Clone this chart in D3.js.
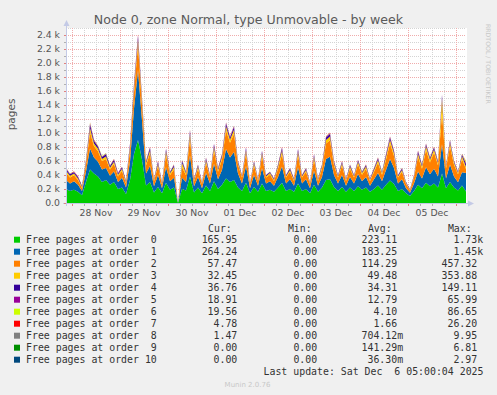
<!DOCTYPE html>
<html>
<head>
<meta charset="utf-8">
<script src="https://cdn.jsdelivr.net/npm/d3@7"></script>
<style>
  body { margin:0; background:#f0f0f0; }
  svg { display:block; }
  text { font-family:"DejaVu Sans", sans-serif; }
  .mono { font-family:"DejaVu Sans Mono", monospace; white-space:pre; }
</style>
</head>
<body>
<script>
// one sample every 2 hours, Nov 27 21:00 -> Dec 6 05:00 (UTC)
const startTime = Date.UTC(2025, 10, 27, 21, 0, 0)
const stepHours = 2

const order0 = [
  200,170,190,160,110,300,480,420,380,300,
  330,260,300,200,220,130,330,700,900,620,
  250,300,150,230,140,290,190,220,0,200,
  180,380,150,220,140,250,170,310,200,260,
  350,300,330,220,170,290,140,230,160,280,
  170,190,160,220,290,170,200,160,280,170,
  200,140,260,160,220,330,340,230,170,230,
  160,220,170,240,190,220,160,200,250,190,
  260,320,270,170,200,140,100,170,260,210,
  290,240,280,220,420,210,300,220,180,250,
  166]
const order1 = [
  130,110,120,100,60,150,300,230,210,180,
  170,130,150,100,140,90,260,650,1000,560,
  170,230,90,170,70,220,120,140,0,160,
  120,300,90,150,70,180,110,250,140,210,
  420,350,400,200,110,240,70,170,85,220,
  110,120,85,150,230,110,140,85,230,110,
  140,70,200,85,150,300,320,170,110,170,
  85,150,110,175,120,150,85,140,180,120,
  210,310,230,110,140,70,45,110,190,140,
  220,170,210,160,420,140,250,160,115,190,
  264]
const order2 = [
  100,85,85,70,45,100,230,160,150,120,
  130,90,110,80,100,60,170,230,360,220,
  120,180,70,130,55,180,90,120,0,150,
  95,240,70,120,60,140,80,190,105,150,
  270,210,260,125,85,180,60,135,70,170,
  85,95,70,120,180,85,105,70,175,85,
  105,60,160,70,120,220,235,135,85,135,
  70,120,85,140,95,120,70,105,145,95,
  150,220,170,85,105,60,35,85,210,140,
  250,170,230,160,450,145,260,165,115,190,
  57]
const order3 = [
  30,25,25,20,15,30,60,40,35,30,
  35,25,30,22,28,18,40,55,70,50,
  30,40,18,32,15,45,25,35,0,60,
  30,65,20,30,15,40,20,50,28,40,
  55,45,55,28,18,45,15,33,18,40,
  18,22,18,30,50,18,28,18,48,18,
  28,15,42,18,30,50,55,32,18,32,
  18,30,18,33,22,30,18,28,38,22,
  40,52,40,18,28,15,10,18,45,30,
  50,38,45,32,200,30,50,32,22,38,
  32]
const order4 = [
  25,20,20,20,13,25,50,35,30,28,
  30,25,28,20,22,15,35,45,50,35,
  22,35,15,27,13,32,18,25,0,35,
  18,45,15,22,12,28,15,35,20,28,
  40,32,40,20,13,32,11,24,12,28,
  13,17,12,22,35,13,20,12,32,13,
  20,11,28,12,22,35,36,24,13,24,
  12,22,13,24,17,22,12,20,26,17,
  28,34,28,13,20,11,7,13,32,22,
  30,24,27,22,45,19,30,18,14,24,
  37]
const order5 = [
  10,7,7,7,5,10,20,10,10,8,
  10,7,8,6,7,5,10,15,15,10,
  6,10,5,8,5,9,5,7,0,10,
  5,14,4,6,3,8,4,10,5,8,
  10,9,10,5,3,9,3,6,4,8,
  3,4,4,6,10,3,5,4,10,3,
  5,3,7,4,6,10,10,6,3,6,
  4,6,3,6,4,6,4,5,8,4,
  8,10,8,3,5,3,2,3,9,6,
  8,6,6,5,12,5,8,4,3,6,
  19]
const order6 = [
  5,3,3,3,2,5,10,5,5,4,
  5,3,4,2,3,2,5,5,5,5,
  2,5,2,3,2,4,2,3,0,5,
  2,6,1,2,0,4,1,5,2,4,
  5,4,5,2,1,4,1,2,1,4,
  1,2,1,2,5,1,2,1,5,1,
  2,1,3,1,2,5,4,3,1,3,
  1,2,1,2,2,2,1,2,3,2,
  4,4,4,1,2,1,1,1,4,2,
  2,2,2,1,3,1,2,1,1,2,
  20]
const order7 = [
  2,1,2,1,1,2,5,3,2,2,
  2,1,2,1,2,1,3,8,10,6,
  2,3,1,2,1,3,1,2,0,2,
  1,4,1,2,1,2,1,3,2,2,
  4,3,4,2,1,3,1,2,1,3,
  1,1,1,2,3,1,2,1,3,1,
  2,1,2,1,2,3,4,2,1,2,
  1,2,1,2,1,2,1,2,2,1,
  2,3,2,1,2,1,0,1,2,1,
  3,2,2,1,5,1,2,1,1,2,
  5]
const order8 = [
  1,0,1,0,0,1,2,1,1,1,
  1,0,1,0,1,0,1,3,4,2,
  1,1,0,1,0,1,0,1,0,1,
  0,2,0,1,0,1,0,1,1,1,
  2,1,2,1,0,1,0,1,0,1,
  0,0,0,1,1,0,1,0,1,0,
  1,0,1,0,1,1,2,1,0,1,
  0,1,0,1,0,1,0,1,1,0,
  1,1,1,0,1,0,0,0,1,1,
  1,1,1,1,2,0,1,1,0,1,
  1]
const order9 = [
  0,0,0,0,0,0,1,0,0,0,
  0,0,0,0,0,0,0,2,3,1,
  0,0,0,0,0,0,0,0,0,0,
  0,1,0,0,0,0,0,0,0,0,
  1,0,1,0,0,0,0,0,0,0,
  0,0,0,0,0,0,0,0,0,0,
  0,0,0,0,0,0,1,0,0,0,
  0,0,0,0,0,0,0,0,0,0,
  0,1,0,0,0,0,0,0,0,0,
  0,0,0,0,1,0,0,0,0,0,
  0]
const order10 = [
  0,0,0,0,0,0,0,0,0,0,
  0,0,0,0,0,0,0,0,2,0,
  0,0,0,0,0,0,0,0,0,0,
  0,0,0,0,0,0,0,0,0,0,
  0,0,0,0,0,0,0,0,0,0,
  0,0,0,0,0,0,0,0,0,0,
  0,0,0,0,0,0,0,0,0,0,
  0,0,0,0,0,0,0,0,0,0,
  0,0,0,0,0,0,0,0,0,0,
  0,0,0,0,1,0,0,0,0,0,
  0]

const seriesLabels = ['Free pages at order  0','Free pages at order  1','Free pages at order  2',
  'Free pages at order  3','Free pages at order  4','Free pages at order  5','Free pages at order  6',
  'Free pages at order  7','Free pages at order  8','Free pages at order  9','Free pages at order 10']
const seriesColors = ['#00cc00','#0066b3','#ff8000','#ffcc00','#330099','#990099',
  '#ccff00','#ff0000','#808080','#008f00','#00487d']
const curValues = [165.95,264.24,57.47,32.45,36.76,18.91,19.56,4.78,1.47,0,0]
const minValues = [0,0,0,0,0,0,0,0,0,0,0]
const avgValues = [223.11,183.25,114.29,49.48,34.31,12.79,4.10,1.66,0.70412,0.14129,0.03630]
const maxValues = [1730,1450,457.32,353.88,149.11,65.99,86.65,26.20,9.95,6.81,2.97]
const yTicks = [0,200,400,600,800,1000,1200,1400,1600,1800,2000,2200,2400]

const series = [order0,order1,order2,order3,order4,order5,order6,order7,order8,order9,order10]
const keys = series.map((s,i)=>'o'+i)
const rows = order0.map((v,i)=>{
  const row = {time: new Date(startTime + i*stepHours*3600e3)}
  series.forEach((s,k)=>row[keys[k]] = s[i])
  return row
})

const W = 497, H = 395
const plot = {left:66, right:466, top:28, bottom:203}

const svg = d3.select('body').append('svg').attr('width',W).attr('height',H)
svg.append('rect').attr('width',W).attr('height',H).attr('fill','#f0f0f0')

const x = d3.scaleUtc()
  .domain([new Date(startTime), new Date(startTime + 100*stepHours*3600e3)])
  .range([plot.left, plot.right])
const y = d3.scaleLinear().domain([0,2500]).range([plot.bottom, plot.top])

svg.append('rect')
  .attr('x',plot.left).attr('y',plot.top)
  .attr('width',plot.right-plot.left+1).attr('height',plot.bottom-plot.top)
  .attr('fill','#ffffff')

// grid
const grid = svg.append('g').attr('shape-rendering','crispEdges')
const minorH = d3.range(100,2600,200)
const hours6 = x.ticks(d3.utcHour.every(6)).filter(d=>d.getUTCHours()!==0)
const days = x.ticks(d3.utcDay.every(1))

grid.selectAll('line.hmin').data(minorH).enter().append('line')
  .attr('x1',plot.left).attr('x2',plot.right)
  .attr('y1',d=>Math.round(y(d))+0.5).attr('y2',d=>Math.round(y(d))+0.5)
  .attr('stroke','#d4d4d4').attr('stroke-dasharray','1,1')
grid.selectAll('line.vmin').data(hours6).enter().append('line')
  .attr('x1',d=>Math.round(x(d))+0.5).attr('x2',d=>Math.round(x(d))+0.5)
  .attr('y1',plot.top).attr('y2',plot.bottom)
  .attr('stroke','#d4d4d4').attr('stroke-dasharray','1,1')
grid.selectAll('line.hmaj').data(yTicks.slice(1)).enter().append('line')
  .attr('x1',plot.left).attr('x2',plot.right)
  .attr('y1',d=>Math.round(y(d))+0.5).attr('y2',d=>Math.round(y(d))+0.5)
  .attr('stroke','#f0acac').attr('stroke-dasharray','1,1')
grid.selectAll('line.vmaj').data(days).enter().append('line')
  .attr('x1',d=>Math.round(x(d))+0.5).attr('x2',d=>Math.round(x(d))+0.5)
  .attr('y1',plot.top).attr('y2',plot.bottom)
  .attr('stroke','#f0acac').attr('stroke-dasharray','1,1')

// stacked areas
const stacked = d3.stack().keys(keys)(rows)
const area = d3.area()
  .x(d=>x(d.data.time))
  .y0(d=>y(d[0]))
  .y1(d=>y(d[1]))
svg.append('g').selectAll('path').data(stacked).enter().append('path')
  .attr('d',area)
  .attr('fill',(d,i)=>seriesColors[i])

// axes
const axisColor = '#c4cae6'
const ax = svg.append('g').attr('shape-rendering','crispEdges')
ax.append('line').attr('x1',plot.left+0.5).attr('x2',plot.left+0.5)
  .attr('y1',plot.bottom+3).attr('y2',plot.top-3).attr('stroke',axisColor)
ax.append('line').attr('x1',plot.left-3).attr('x2',plot.right+4)
  .attr('y1',plot.bottom+0.5).attr('y2',plot.bottom+0.5).attr('stroke',axisColor)
svg.append('path')
  .attr('d',`M${plot.left+0.5},${plot.top-8} L${plot.left-2.5},${plot.top-2} L${plot.left+3.5},${plot.top-2} Z`)
  .attr('fill',axisColor)
svg.append('path')
  .attr('d',`M${plot.right+8},${plot.bottom+0.5} L${plot.right+2},${plot.bottom-2.5} L${plot.right+2},${plot.bottom+3.5} Z`)
  .attr('fill',axisColor)

ax.selectAll('line.yt').data(d3.range(0,2500,100)).enter().append('line')
  .attr('x1',plot.left-2).attr('x2',plot.left)
  .attr('y1',d=>Math.round(y(d))+0.5).attr('y2',d=>Math.round(y(d))+0.5)
  .attr('stroke',d=>d%200===0?'#e08080':'#b0b0b0')
ax.selectAll('line.xt').data(hours6.concat(days)).enter().append('line')
  .attr('x1',d=>Math.round(x(d))+0.5).attr('x2',d=>Math.round(x(d))+0.5)
  .attr('y1',plot.bottom+1).attr('y2',plot.bottom+3)
  .attr('stroke',d=>d.getUTCHours()===0?'#e08080':'#b0b0b0')

// tick labels
const fmtY = d=>d===0?'0.0':(d/1000).toFixed(1)+' k'
svg.append('g').selectAll('text').data(yTicks).enter().append('text')
  .attr('x',60).attr('y',d=>y(d)).attr('dy','0.36em')
  .attr('text-anchor','end').attr('font-size','9.3px').attr('fill','#555')
  .text(fmtY)

const noons = d3.utcDay.range(new Date(startTime), x.domain()[1])
  .map(d=>d3.utcHour.offset(d,12)).filter(d=>d<x.domain()[1])
svg.append('g').selectAll('text').data(noons).enter().append('text')
  .attr('x',d=>x(d)).attr('y',215.5)
  .attr('text-anchor','middle').attr('font-size','9.3px').attr('fill','#555')
  .text(d3.utcFormat('%d %b'))

// titles
svg.append('text').attr('x',248.5).attr('y',23.5).attr('text-anchor','middle')
  .attr('font-size','12.6px').attr('fill','#5a5a5a')
  .text('Node 0, zone Normal, type Unmovable - by week')
svg.append('text').attr('transform','translate(14.5,114.5) rotate(-90)')
  .attr('text-anchor','middle').attr('font-size','10.5px').attr('fill','#555')
  .text('pages')
svg.append('text').attr('transform','translate(486,24) rotate(90)')
  .attr('font-size','6.2px').attr('fill','#c8c8c8')
  .text('RRDTOOL / TOBI OETIKER')

// legend
const fmtV = v=>{
  if (v===0) return ['0.00','']
  if (v>=1000) return [(v/1000).toFixed(2),'k']
  if (v<1) return [(v*1000).toFixed(2),'m']
  return [v.toFixed(2),'']
}
const colEnds = [237.3,317.2,397.2,477.2]
const legend = svg.append('g').attr('class','mono').attr('font-size','9.9px').attr('fill','#333')
;['Cur:','Min:','Avg:','Max:'].forEach((h,i)=>{
  legend.append('text').attr('class','mono').attr('x',colEnds[i]-29.3).attr('y',231.8).text(h)
})
seriesLabels.forEach((label,i)=>{
  const cy = 239.7 + i*12
  legend.append('rect').attr('x',14).attr('y',cy-3).attr('width',6).attr('height',6)
    .attr('fill',seriesColors[i])
  legend.append('text').attr('class','mono').attr('x',26).attr('y',cy+3.5).text(label)
  ;[curValues[i],minValues[i],avgValues[i],maxValues[i]].forEach((v,k)=>{
    const [num,suffix] = fmtV(v)
    legend.append('text').attr('class','mono').attr('x',colEnds[k]).attr('y',cy+3.5)
      .attr('text-anchor','end').text(num)
    if (suffix) legend.append('text').attr('class','mono').attr('x',colEnds[k]).attr('y',cy+3.5).text(suffix)
  })
})
legend.append('text').attr('class','mono').attr('x',483.5).attr('y',374.5)
  .attr('text-anchor','end').text('Last update: Sat Dec  6 05:00:04 2025')
svg.append('text').attr('x',247.5).attr('y',387).attr('text-anchor','middle')
  .attr('font-size','7px').attr('fill','#c8c8c8').text('Munin 2.0.76')
</script>
</body>
</html>
